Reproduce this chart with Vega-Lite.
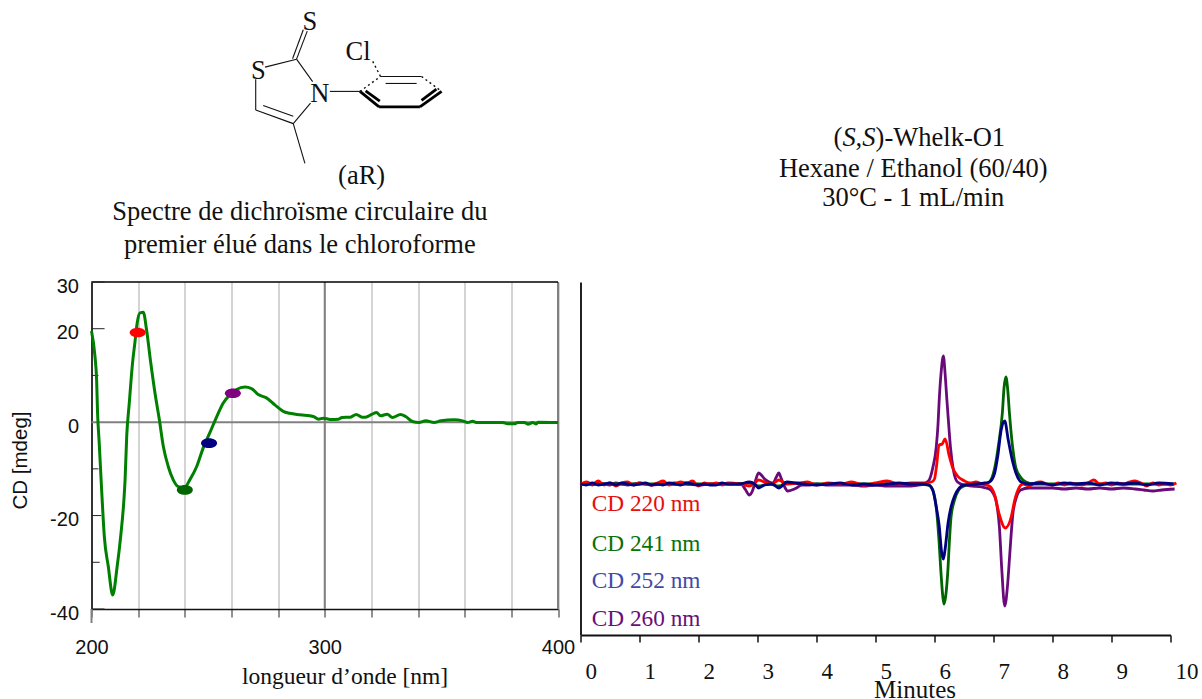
{"$schema":"https://vega.github.io/schema/vega-lite/v6.json","background":"white","padding":{"left":10.5,"top":8,"right":0,"bottom":0},"bounds":"flush","spacing":22,"config":{"view":{"stroke":null},"text":{"font":"Liberation Serif"}},
"datasets":{
"cd":[{"x":200,"y":19.5},{"x":201.5,"y":14},{"x":202.2,"y":9},{"x":202.6,"y":2},{"x":203.3,"y":-4.4},{"x":204.4,"y":-15},{"x":205.5,"y":-24.5},{"x":207.2,"y":-30.9},{"x":209.1,"y":-37},{"x":211,"y":-30.9},{"x":212.5,"y":-24.5},{"x":213.9,"y":-16.6},{"x":214.4,"y":-12.3},{"x":215.1,"y":-3},{"x":216.2,"y":4.1},{"x":217.6,"y":12.7},{"x":218.6,"y":17},{"x":219.6,"y":21.3},{"x":220.8,"y":23.4},{"x":222.2,"y":23.5},{"x":223.6,"y":19.8},{"x":225.4,"y":12.7},{"x":227.2,"y":6.3},{"x":229.1,"y":0.5},{"x":230.8,"y":-5.2},{"x":232.9,"y":-9.5},{"x":235,"y":-12.3},{"x":237.2,"y":-13.8},{"x":239.8,"y":-14},{"x":242.2,"y":-12.3},{"x":245.1,"y":-9.5},{"x":247.9,"y":-5.5},{"x":250.8,"y":-2.2},{"x":253.7,"y":1.2},{"x":256.5,"y":4.1},{"x":259.4,"y":5.9},{"x":262.2,"y":7},{"x":265.8,"y":7.5},{"x":268.6,"y":7.2},{"x":271.5,"y":5.9},{"x":275,"y":5.2},{"x":278.6,"y":3.7},{"x":282.2,"y":2.3},{"x":285,"y":1.9},{"x":289.4,"y":1.57},{"x":295.1,"y":1.2},{"x":297.3,"y":0.64},{"x":299.4,"y":0.86},{"x":302.3,"y":0.57},{"x":305.9,"y":0.64},{"x":307.4,"y":1},{"x":311,"y":1.07},{"x":313.5,"y":1.64},{"x":316,"y":1.07},{"x":317.4,"y":1.07},{"x":320.3,"y":1.7},{"x":322.2,"y":2.07},{"x":323.9,"y":1.36},{"x":326.8,"y":1.7},{"x":329,"y":1},{"x":332.5,"y":1.64},{"x":334.7,"y":1.2},{"x":337.6,"y":0.14},{"x":340.4,"y":-0.07},{"x":343.3,"y":0.28},{"x":346.9,"y":-0.07},{"x":349.8,"y":0.28},{"x":355.5,"y":0.5},{"x":359.1,"y":0.28},{"x":361.3,"y":-0.07},{"x":363.4,"y":0.21},{"x":364.9,"y":-0.07},{"x":376.3,"y":-0.07},{"x":378.5,"y":-0.36},{"x":381.3,"y":-0.36},{"x":382.8,"y":-0.07},{"x":385.6,"y":-0.07},{"x":387.1,"y":-0.43},{"x":389.2,"y":-0.07},{"x":390.7,"y":-0.4},{"x":391.4,"y":0},{"x":400,"y":-0.07}],
"markers":[{"x":219.8,"y":19.2,"c":"220"},{"x":240,"y":-14.5,"c":"241"},{"x":250.4,"y":-4.5,"c":"252"},{"x":260.6,"y":6.2,"c":"260"}],
"yticks":[{"x":200,"x2":205.6,"y":30},{"x":200,"x2":205.6,"y":20},{"x":200,"x2":203,"y":10},{"x":200,"x2":203,"y":-10},{"x":200,"x2":204.2,"y":-20},{"x":200,"x2":203.5,"y":-30},{"x":200,"x2":205.6,"y":-40}],
"thin":[{"x":287.9,"y":77.7,"x2":292.5,"y2":83.7},{"x":286.2,"y":77.8,"x2":290.8,"y2":84},{"x":274.4,"y":76,"x2":287.9,"y2":77.7},{"x":287.9,"y":77.7,"x2":294.8,"y2":72.9},{"x":270.4,"y":73.4,"x2":270.4,"y2":66.8},{"x":270.4,"y":66.8,"x2":286.5,"y2":63.9},{"x":273.6,"y":67.8,"x2":286.5,"y2":65.5},{"x":286.5,"y":63.9,"x2":293.9,"y2":68.3},{"x":286.5,"y":63.9,"x2":291.5,"y2":55.4},{"x":302.2,"y":70.8,"x2":315.1,"y2":70.8},{"x":323.9,"y":74,"x2":341.5,"y2":74},{"x":326.1,"y":72.5,"x2":339.4,"y2":72.5}],
"bold":[{"x":315.1,"y":70.8,"x2":323.3,"y2":67.5},{"x":317.5,"y":70.9,"x2":323.6,"y2":68.7},{"x":323.3,"y":67.5,"x2":340.8,"y2":67.5},{"x":340.8,"y":67.5,"x2":350.1,"y2":70.8},{"x":341.5,"y":68.9,"x2":347.9,"y2":71.3}],
"dash":[{"x":315.1,"y":70.8,"x2":323.9,"y2":74},{"x":323.9,"y":74,"x2":320.5,"y2":77.3},{"x":341.5,"y":74,"x2":350.1,"y2":70.8}],
"labelsL":[{"x":293.6,"y":85.7,"label":"S"},{"x":314.3,"y":79.2,"label":"Cl"},{"x":271.5,"y":75.2,"label":"S"},{"x":297.9,"y":70.2,"label":"N"},{"x":315.8,"y":52.7,"label":"(aR)"},{"x":289.3,"y":44.9,"label":"Spectre de dichroïsme circulaire du"},{"x":289.3,"y":38,"label":"premier élué dans le chloroforme"}],
"trace":[
{"n":"260","t":0,"v":0},{"n":"260","t":0.1,"v":1},{"n":"260","t":0.2,"v":-1},{"n":"260","t":0.3,"v":1},{"n":"260","t":0.4,"v":0},{"n":"260","t":0.5,"v":-1},{"n":"260","t":0.6,"v":1},{"n":"260","t":0.7,"v":0},{"n":"260","t":0.8,"v":-1},{"n":"260","t":0.9,"v":0},{"n":"260","t":1,"v":1},{"n":"260","t":1.2,"v":-1},{"n":"260","t":1.4,"v":0},{"n":"260","t":1.6,"v":1},{"n":"260","t":1.8,"v":0},{"n":"260","t":2,"v":-1},{"n":"260","t":2.2,"v":0},{"n":"260","t":2.4,"v":0},{"n":"260","t":2.6,"v":0},{"n":"260","t":2.72,"v":0},{"n":"260","t":2.8,"v":-6},{"n":"260","t":2.86,"v":-11},{"n":"260","t":2.92,"v":-6},{"n":"260","t":2.95,"v":0},{"n":"260","t":3.02,"v":11},{"n":"260","t":3.08,"v":8},{"n":"260","t":3.12,"v":5},{"n":"260","t":3.2,"v":2},{"n":"260","t":3.26,"v":1},{"n":"260","t":3.32,"v":7},{"n":"260","t":3.36,"v":11},{"n":"260","t":3.4,"v":6},{"n":"260","t":3.43,"v":1},{"n":"260","t":3.47,"v":-4},{"n":"260","t":3.51,"v":-7},{"n":"260","t":3.58,"v":-6},{"n":"260","t":3.66,"v":-4},{"n":"260","t":3.75,"v":-1},{"n":"260","t":3.85,"v":-1},{"n":"260","t":4,"v":0},{"n":"260","t":4.2,"v":-1},{"n":"260","t":4.4,"v":-1},{"n":"260","t":4.6,"v":-1},{"n":"260","t":4.8,"v":-2},{"n":"260","t":5,"v":-1},{"n":"260","t":5.2,"v":-2},{"n":"260","t":5.4,"v":-2},{"n":"260","t":5.6,"v":-2},{"n":"260","t":5.75,"v":-1},{"n":"260","t":5.85,"v":1},{"n":"260","t":5.91,"v":4},{"n":"260","t":5.97,"v":16},{"n":"260","t":6.03,"v":37},{"n":"260","t":6.06,"v":60},{"n":"260","t":6.08,"v":84},{"n":"260","t":6.11,"v":110},{"n":"260","t":6.15,"v":128},{"n":"260","t":6.18,"v":110},{"n":"260","t":6.21,"v":84},{"n":"260","t":6.24,"v":60},{"n":"260","t":6.27,"v":37},{"n":"260","t":6.32,"v":14},{"n":"260","t":6.39,"v":2},{"n":"260","t":6.5,"v":-1},{"n":"260","t":6.65,"v":-2},{"n":"260","t":6.8,"v":-3},{"n":"260","t":6.93,"v":-5},{"n":"260","t":7,"v":-10},{"n":"260","t":7.04,"v":-16},{"n":"260","t":7.1,"v":-43},{"n":"260","t":7.14,"v":-85},{"n":"260","t":7.19,"v":-122},{"n":"260","t":7.24,"v":-100},{"n":"260","t":7.27,"v":-75},{"n":"260","t":7.33,"v":-29},{"n":"260","t":7.39,"v":-13},{"n":"260","t":7.46,"v":-6},{"n":"260","t":7.6,"v":-4},{"n":"260","t":7.8,"v":-4},{"n":"260","t":8,"v":-4},{"n":"260","t":8.2,"v":-5},{"n":"260","t":8.4,"v":-4},{"n":"260","t":8.6,"v":-5},{"n":"260","t":8.8,"v":-4},{"n":"260","t":9,"v":-5},{"n":"260","t":9.2,"v":-4},{"n":"260","t":9.4,"v":-5},{"n":"260","t":9.55,"v":-6},{"n":"260","t":9.7,"v":-7},{"n":"260","t":9.85,"v":-6},{"n":"260","t":10.07,"v":-5},
{"n":"241","t":0,"v":0},{"n":"241","t":0.5,"v":0},{"n":"241","t":1,"v":0},{"n":"241","t":1.5,"v":0},{"n":"241","t":2,"v":0},{"n":"241","t":2.6,"v":0},{"n":"241","t":2.86,"v":1},{"n":"241","t":3.02,"v":-2},{"n":"241","t":3.2,"v":0},{"n":"241","t":3.36,"v":-2},{"n":"241","t":3.55,"v":1},{"n":"241","t":4,"v":0},{"n":"241","t":5,"v":0},{"n":"241","t":5.7,"v":0},{"n":"241","t":5.9,"v":-1},{"n":"241","t":5.97,"v":-6},{"n":"241","t":6.04,"v":-29},{"n":"241","t":6.08,"v":-60},{"n":"241","t":6.11,"v":-89},{"n":"241","t":6.14,"v":-112},{"n":"241","t":6.16,"v":-120},{"n":"241","t":6.19,"v":-112},{"n":"241","t":6.23,"v":-83},{"n":"241","t":6.25,"v":-60},{"n":"241","t":6.28,"v":-33},{"n":"241","t":6.34,"v":-16},{"n":"241","t":6.41,"v":-6},{"n":"241","t":6.5,"v":-2},{"n":"241","t":6.6,"v":0},{"n":"241","t":6.85,"v":0},{"n":"241","t":6.93,"v":2},{"n":"241","t":7.02,"v":16},{"n":"241","t":7.09,"v":41},{"n":"241","t":7.15,"v":71},{"n":"241","t":7.18,"v":97},{"n":"241","t":7.21,"v":107},{"n":"241","t":7.24,"v":95},{"n":"241","t":7.27,"v":71},{"n":"241","t":7.33,"v":34},{"n":"241","t":7.38,"v":16},{"n":"241","t":7.47,"v":6},{"n":"241","t":7.55,"v":2},{"n":"241","t":7.7,"v":0},{"n":"241","t":8,"v":0},{"n":"241","t":9,"v":0},{"n":"241","t":10.07,"v":0},
{"n":"220","t":0,"v":-1},{"n":"220","t":0.1,"v":2},{"n":"220","t":0.2,"v":0},{"n":"220","t":0.3,"v":3},{"n":"220","t":0.4,"v":-1},{"n":"220","t":0.5,"v":1},{"n":"220","t":0.6,"v":-2},{"n":"220","t":0.7,"v":1},{"n":"220","t":0.8,"v":2},{"n":"220","t":0.9,"v":-1},{"n":"220","t":1,"v":1},{"n":"220","t":1.1,"v":0},{"n":"220","t":1.2,"v":-1},{"n":"220","t":1.3,"v":1},{"n":"220","t":1.4,"v":3},{"n":"220","t":1.5,"v":-1},{"n":"220","t":1.6,"v":0},{"n":"220","t":1.7,"v":2},{"n":"220","t":1.8,"v":1},{"n":"220","t":1.9,"v":3},{"n":"220","t":2,"v":-2},{"n":"220","t":2.1,"v":1},{"n":"220","t":2.2,"v":0},{"n":"220","t":2.3,"v":1},{"n":"220","t":2.4,"v":-1},{"n":"220","t":2.5,"v":1},{"n":"220","t":2.7,"v":0},{"n":"220","t":2.86,"v":-2},{"n":"220","t":2.95,"v":1},{"n":"220","t":3.02,"v":4},{"n":"220","t":3.15,"v":1},{"n":"220","t":3.25,"v":0},{"n":"220","t":3.36,"v":4},{"n":"220","t":3.5,"v":0},{"n":"220","t":3.7,"v":1},{"n":"220","t":3.85,"v":2},{"n":"220","t":4,"v":-1},{"n":"220","t":4.2,"v":1},{"n":"220","t":4.4,"v":0},{"n":"220","t":4.6,"v":2},{"n":"220","t":4.8,"v":-1},{"n":"220","t":5,"v":1},{"n":"220","t":5.2,"v":3},{"n":"220","t":5.4,"v":0},{"n":"220","t":5.6,"v":1},{"n":"220","t":5.8,"v":1},{"n":"220","t":5.95,"v":2},{"n":"220","t":6,"v":5},{"n":"220","t":6.03,"v":16},{"n":"220","t":6.08,"v":39},{"n":"220","t":6.13,"v":40},{"n":"220","t":6.18,"v":45},{"n":"220","t":6.25,"v":28},{"n":"220","t":6.31,"v":16},{"n":"220","t":6.39,"v":8},{"n":"220","t":6.51,"v":3},{"n":"220","t":6.6,"v":1},{"n":"220","t":6.7,"v":2},{"n":"220","t":6.8,"v":0},{"n":"220","t":6.93,"v":-2},{"n":"220","t":7.02,"v":-11},{"n":"220","t":7.1,"v":-31},{"n":"220","t":7.2,"v":-44},{"n":"220","t":7.3,"v":-33},{"n":"220","t":7.36,"v":-16},{"n":"220","t":7.44,"v":-3},{"n":"220","t":7.5,"v":0},{"n":"220","t":7.6,"v":-2},{"n":"220","t":7.7,"v":1},{"n":"220","t":7.8,"v":2},{"n":"220","t":7.9,"v":0},{"n":"220","t":8,"v":-1},{"n":"220","t":8.1,"v":1},{"n":"220","t":8.2,"v":-1},{"n":"220","t":8.3,"v":1},{"n":"220","t":8.4,"v":0},{"n":"220","t":8.5,"v":-1},{"n":"220","t":8.6,"v":1},{"n":"220","t":8.7,"v":4},{"n":"220","t":8.8,"v":0},{"n":"220","t":8.9,"v":1},{"n":"220","t":9,"v":-1},{"n":"220","t":9.1,"v":1},{"n":"220","t":9.2,"v":0},{"n":"220","t":9.3,"v":2},{"n":"220","t":9.4,"v":3},{"n":"220","t":9.5,"v":1},{"n":"220","t":9.6,"v":-2},{"n":"220","t":9.7,"v":1},{"n":"220","t":9.8,"v":-1},{"n":"220","t":9.9,"v":0},{"n":"220","t":10,"v":-1},{"n":"220","t":10.1,"v":1},
{"n":"252","t":0,"v":0},{"n":"252","t":0.1,"v":-1},{"n":"252","t":0.2,"v":1},{"n":"252","t":0.3,"v":-1},{"n":"252","t":0.4,"v":0},{"n":"252","t":0.5,"v":1},{"n":"252","t":0.6,"v":-1},{"n":"252","t":0.7,"v":1},{"n":"252","t":0.8,"v":0},{"n":"252","t":0.9,"v":-1},{"n":"252","t":1,"v":0},{"n":"252","t":1.1,"v":1},{"n":"252","t":1.2,"v":-1},{"n":"252","t":1.3,"v":0},{"n":"252","t":1.4,"v":-1},{"n":"252","t":1.5,"v":1},{"n":"252","t":1.6,"v":0},{"n":"252","t":1.7,"v":-1},{"n":"252","t":1.8,"v":1},{"n":"252","t":1.9,"v":0},{"n":"252","t":2,"v":-1},{"n":"252","t":2.1,"v":0},{"n":"252","t":2.2,"v":-1},{"n":"252","t":2.3,"v":-1},{"n":"252","t":2.4,"v":1},{"n":"252","t":2.5,"v":0},{"n":"252","t":2.7,"v":0},{"n":"252","t":2.86,"v":2},{"n":"252","t":2.95,"v":0},{"n":"252","t":3.02,"v":-4},{"n":"252","t":3.12,"v":-1},{"n":"252","t":3.25,"v":0},{"n":"252","t":3.36,"v":-4},{"n":"252","t":3.5,"v":2},{"n":"252","t":3.65,"v":1},{"n":"252","t":3.8,"v":0},{"n":"252","t":4,"v":-1},{"n":"252","t":4.2,"v":0},{"n":"252","t":4.4,"v":1},{"n":"252","t":4.6,"v":-1},{"n":"252","t":4.8,"v":0},{"n":"252","t":5,"v":-1},{"n":"252","t":5.2,"v":0},{"n":"252","t":5.4,"v":1},{"n":"252","t":5.6,"v":0},{"n":"252","t":5.8,"v":0},{"n":"252","t":5.9,"v":-1},{"n":"252","t":5.97,"v":-6},{"n":"252","t":6.03,"v":-23},{"n":"252","t":6.08,"v":-42},{"n":"252","t":6.12,"v":-68},{"n":"252","t":6.15,"v":-75},{"n":"252","t":6.18,"v":-65},{"n":"252","t":6.23,"v":-39},{"n":"252","t":6.28,"v":-23},{"n":"252","t":6.34,"v":-12},{"n":"252","t":6.42,"v":-4},{"n":"252","t":6.5,"v":-1},{"n":"252","t":6.7,"v":0},{"n":"252","t":6.85,"v":1},{"n":"252","t":6.93,"v":2},{"n":"252","t":7.02,"v":11},{"n":"252","t":7.07,"v":27},{"n":"252","t":7.13,"v":54},{"n":"252","t":7.19,"v":63},{"n":"252","t":7.25,"v":44},{"n":"252","t":7.33,"v":21},{"n":"252","t":7.38,"v":11},{"n":"252","t":7.47,"v":2},{"n":"252","t":7.6,"v":0},{"n":"252","t":7.8,"v":1},{"n":"252","t":8,"v":-1},{"n":"252","t":8.2,"v":1},{"n":"252","t":8.4,"v":0},{"n":"252","t":8.6,"v":1},{"n":"252","t":8.8,"v":-1},{"n":"252","t":9,"v":1},{"n":"252","t":9.2,"v":0},{"n":"252","t":9.4,"v":1},{"n":"252","t":9.6,"v":-1},{"n":"252","t":9.8,"v":1},{"n":"252","t":10.05,"v":0}],
"legendText":[{"n":"220","t":0.19,"v":-20,"label":"CD 220 nm"},{"n":"241","t":0.19,"v":-60,"label":"CD 241 nm"},{"n":"252","t":0.19,"v":-97,"label":"CD 252 nm"},{"n":"260","t":0.19,"v":-135,"label":"CD 260 nm"}],
"headR":[{"t":5.64,"v":315,"label":"Hexane / Ethanol (60/40)"},{"t":5.64,"v":286,"label":"30°C - 1 mL/min"}],
"headRoman":[{"t":4.29,"v":346,"label":"("},{"t":4.663,"v":346,"label":","},{"t":5.002,"v":346,"label":")-Whelk-O1"}],
"headItalic":[{"t":4.439,"v":346,"label":"S"},{"t":4.776,"v":346,"label":"S"}]
},
"hconcat":[
{"width":466.5,"height":327,"layer":[
{"data":{"values":[{"x":300},{"x":400}]},"mark":{"type":"rule","color":"#808080","strokeWidth":2},"encoding":{"x":{"field":"x","type":"quantitative"}}},
{"data":{"values":[{"y":0}]},"mark":{"type":"rule","color":"#808080","strokeWidth":2},"encoding":{"y":{"field":"y","type":"quantitative"}}},
{"data":{"values":[{"y":30}]},"mark":{"type":"rule","color":"#000000","strokeWidth":1.5},"encoding":{"y":{"field":"y","type":"quantitative"}}},
{"data":{"name":"yticks"},"mark":{"type":"rule","color":"#222222","strokeWidth":1},"encoding":{"x":{"field":"x","type":"quantitative"},"x2":{"field":"x2"},"y":{"field":"y","type":"quantitative"}}},
{"data":{"values":[{"x":200,"y":-40,"y2":-43}]},"mark":{"type":"rule","color":"#808080","strokeWidth":2},"encoding":{"x":{"field":"x","type":"quantitative"},"y":{"field":"y","type":"quantitative"},"y2":{"field":"y2"}}},
{"data":{"name":"cd"},"mark":{"type":"line","color":"#008000","strokeWidth":3,"interpolate":"monotone"},"encoding":{
"x":{"field":"x","type":"quantitative","scale":{"domain":[200,400],"nice":false,"zero":false},"axis":{"values":[200,220,240,260,280,300,320,340,360,380,400],"labelExpr":"datum.value % 100 === 0 ? datum.label : ''","labelOverlap":false,"labelFlush":false,"grid":true,"gridColor":"#b8b8b8","gridWidth":1.2,"domainColor":"#111111","domainWidth":1.5,"tickColor":"#222222","tickSize":8,"labelFont":"Liberation Sans","labelFontSize":20,"labelColor":"#111111","labelPadding":20,"title":"longueur d’onde [nm]","titleFont":"Liberation Serif","titleFontSize":23.5,"titleFontWeight":"normal","titleColor":"#111111","titleX":253,"titleY":55}},
"y":{"field":"y","type":"quantitative","scale":{"domain":[-40,30],"nice":false,"zero":false},"axis":{"values":[-40,-20,0,20,30],"labelExpr":"'' + datum.value","grid":false,"ticks":false,"labelFont":"Liberation Sans","labelFontSize":20,"labelColor":"#111111","labelPadding":13,"labelOffset":4,"domainColor":"#333333","domainWidth":2,"title":"CD [mdeg]","titleFont":"Liberation Sans","titleFontSize":20.5,"titleFontWeight":"normal","titleColor":"#111111","titleX":-61,"titleY":178}}}},
{"data":{"name":"markers"},"mark":{"type":"point","filled":true,"opacity":1,"size":256,"shape":"M -1 0 A 1 0.6 0 1 1 1 0 A 1 0.6 0 1 1 -1 0 Z"},"encoding":{"x":{"field":"x","type":"quantitative"},"y":{"field":"y","type":"quantitative"},"color":{"field":"c","type":"nominal","scale":{"domain":["220","241","252","260"],"range":["#ff0000","#006400","#000080","#800080"]},"legend":null}}},
{"data":{"name":"thin"},"mark":{"type":"rule","color":"#111111","strokeWidth":1.1},"encoding":{"x":{"field":"x","type":"quantitative"},"x2":{"field":"x2"},"y":{"field":"y","type":"quantitative"},"y2":{"field":"y2"}}},
{"data":{"name":"bold"},"mark":{"type":"rule","color":"#000000","strokeWidth":2.8},"encoding":{"x":{"field":"x","type":"quantitative"},"x2":{"field":"x2"},"y":{"field":"y","type":"quantitative"},"y2":{"field":"y2"}}},
{"data":{"name":"dash"},"mark":{"type":"rule","color":"#111111","strokeWidth":1.4,"strokeDash":[2,3]},"encoding":{"x":{"field":"x","type":"quantitative"},"x2":{"field":"x2"},"y":{"field":"y","type":"quantitative"},"y2":{"field":"y2"}}},
{"data":{"name":"labelsL"},"mark":{"type":"text","font":"Liberation Serif","fontSize":26.5,"align":"center","baseline":"middle","color":"#111111"},"encoding":{"x":{"field":"x","type":"quantitative"},"y":{"field":"y","type":"quantitative"},"text":{"field":"label"}}}
]},
{"width":590,"height":353,"resolve":{"scale":{"color":"independent"}},"layer":[
{"data":{"name":"trace"},"mark":{"type":"line","strokeWidth":2.8,"interpolate":"monotone"},"encoding":{
"x":{"field":"t","type":"quantitative","scale":{"domain":[0,10],"nice":false,"zero":false},"axis":{"values":[0,1,2,3,4,5,6,7,8,9,10],"format":"d","grid":false,"labelAlign":"left","labelOffset":4.5,"labelFont":"Liberation Serif","labelFontSize":23,"labelColor":"#111111","labelPadding":18,"labelFlush":false,"domainColor":"#111111","domainWidth":2,"tickColor":"#111111","tickWidth":1.5,"tickSize":7,"title":"Minutes","titleFont":"Liberation Serif","titleFontSize":25,"titleFontWeight":"normal","titleColor":"#111111","titleX":334,"titleY":42}},
"y":{"field":"v","type":"quantitative","scale":{"domain":[-151,202],"nice":false,"zero":false},"axis":{"grid":false,"ticks":false,"labels":false,"title":null,"domainColor":"#222222","domainWidth":2}},
"color":{"field":"n","type":"nominal","scale":{"domain":["220","241","252","260"],"range":["#ff0000","#006400","#000080","#6a0a7a"]},"legend":null}}},
{"data":{"name":"legendText"},"mark":{"type":"text","font":"Liberation Serif","fontSize":23.3,"align":"left","baseline":"middle"},"encoding":{"x":{"field":"t","type":"quantitative"},"y":{"field":"v","type":"quantitative"},"text":{"field":"label"},"color":{"field":"n","type":"nominal","scale":{"domain":["220","241","252","260"],"range":["#e41010","#0a700a","#4348a8","#6a0f78"]},"legend":null}}},
{"data":{"name":"headR"},"mark":{"type":"text","font":"Liberation Serif","fontSize":26.5,"align":"center","baseline":"middle","color":"#111111"},"encoding":{"x":{"field":"t","type":"quantitative"},"y":{"field":"v","type":"quantitative"},"text":{"field":"label"}}},
{"data":{"name":"headRoman"},"mark":{"type":"text","font":"Liberation Serif","fontSize":26.5,"align":"left","baseline":"middle","color":"#111111"},"encoding":{"x":{"field":"t","type":"quantitative"},"y":{"field":"v","type":"quantitative"},"text":{"field":"label"}}},
{"data":{"name":"headItalic"},"mark":{"type":"text","font":"Liberation Serif","fontSize":26.5,"fontStyle":"italic","align":"left","baseline":"middle","color":"#111111"},"encoding":{"x":{"field":"t","type":"quantitative"},"y":{"field":"v","type":"quantitative"},"text":{"field":"label"}}}
]}
]}
